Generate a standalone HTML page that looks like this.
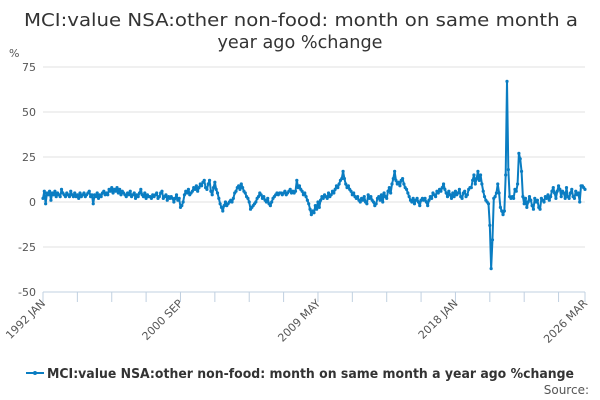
<!DOCTYPE html>
<html><head><meta charset="utf-8"><style>
body{margin:0;background:#fff;font-family:"DejaVu Sans","Liberation Sans",sans-serif;}
#wrap{position:relative;width:600px;height:400px;overflow:hidden;}
</style></head><body>
<div id="wrap">
<svg id="svg" width="600" height="400" xmlns="http://www.w3.org/2000/svg" font-family="DejaVu Sans, Liberation Sans, sans-serif">
<text x="301" y="26" text-anchor="middle" font-size="18" fill="#333" textLength="554" lengthAdjust="spacingAndGlyphs">MCI:value NSA:other non-food: month on same month a</text>
<text x="300" y="48" text-anchor="middle" font-size="18" fill="#333" textLength="165" lengthAdjust="spacingAndGlyphs">year ago %change</text>
<text x="9" y="57" font-size="11" fill="#555">%</text>
<g id="grid"></g><g id="xaxis"></g><g id="series"></g>
<g>
<line x1="26" y1="373" x2="44" y2="373" stroke="#0a7dc2" stroke-width="2"/>
<circle cx="35" cy="373" r="2" fill="#0a7dc2"/>
<text x="47" y="378" font-size="13" font-weight="bold" fill="#333" textLength="527" lengthAdjust="spacingAndGlyphs">MCI:value NSA:other non-food: month on same month a year ago %change</text>
</g>
<text x="589" y="394" text-anchor="end" font-size="12" fill="#555">Source:</text>
</svg></div>
<script>
const yTicks=[75,50,25,0,-25,-50];
const xLabelIdx=[0,104,208,312,410];
const xLabels=["1992 JAN","2000 SEP","2009 MAY","2018 JAN","2026 MAR"];
const values=[
2,6,-1,5,4,6,1,5,4,6,3,5,
4,3,7,5,4,3,5,4,3,6,4,3,
5,3,4,2,5,3,4,5,3,4,5,6,
3,4,-1,4,3,5,2,4,3,5,6,4,
5,4,7,6,8,5,7,6,8,5,7,4,
6,5,4,3,5,4,6,3,4,5,2,4,
3,5,7,4,3,5,2,4,3,3,2,4,
3,4,5,2,3,5,6,2,3,4,1,3,
2,3,2,0,2,4,1,2,-3,-2,0,4,
6,5,7,4,5,6,8,7,9,6,8,10,
9,11,12,8,7,10,12,6,4,8,11,7,
5,2,-1,-3,-5,-2,0,-2,-1,0,1,0,
2,5,6,8,9,7,10,8,6,5,3,2,
0,-4,-3,-2,-1,0,2,3,5,4,2,3,
1,0,2,-1,-2,0,2,3,4,5,4,5,
5,4,5,6,4,5,6,7,5,6,5,6,
12,8,9,7,6,4,5,3,1,-1,-4,-7,
-5,-6,-2,-4,0,-3,1,3,2,4,3,2,
5,3,4,6,5,7,9,8,10,12,13,17,
13,10,8,9,7,6,4,5,3,2,3,1,
0,2,1,3,0,-1,4,2,3,1,0,-2,
-1,2,3,1,4,0,5,3,2,6,8,5,
10,13,17,12,10,11,9,12,13,10,8,7,
5,3,1,0,2,-1,1,2,0,-2,1,2,
1,2,0,-2,1,3,2,5,4,3,6,5,
7,6,8,10,7,5,3,6,4,2,5,3,
6,4,5,7,3,2,5,6,3,4,7,8,
8,12,15,10,13,17,12,15,10,6,3,1,
0,-1,-13,-37,-21,2,3,5,10,5,-3,-5,
-7,-5,15,67,18,3,2,3,2,7,6,10,
27,24,17,3,-1,2,-3,0,3,1,-2,-4,
2,0,1,-3,-4,2,1,0,3,2,4,1,
3,6,8,5,2,6,9,7,3,6,5,2,
8,3,2,5,7,3,2,6,4,5,0,9,
9,8,7];
const X0=43,X1=585,Y0=67,Y1=292;
const N=values.length;
function xs(i){return X0+(X1-X0)*i/(N-1);}
function ys(v){return Y0+(75-v)*(Y1-Y0)/125;}
const NS="http://www.w3.org/2000/svg";
function mk(t,a,p){const e=document.createElementNS(NS,t);for(const k in a)e.setAttribute(k,a[k]);p.appendChild(e);return e;}
const grid=document.getElementById('grid');
yTicks.forEach(v=>{
  if(v!==-50){const l=mk('line',{x1:X0,x2:X1,y1:ys(v),y2:ys(v),stroke:'#e0e0e0','stroke-width':1},grid);
  
  }
  const t=mk('text',{x:X0-7,y:ys(v)+4,'text-anchor':'end','font-size':11,fill:'#555'},grid);
  t.textContent=v;
  
  
});
const xa=document.getElementById('xaxis');
const ax=mk('line',{x1:X0,x2:X1,y1:Y1,y2:Y1,stroke:'#c0d0e0','stroke-width':1},xa);


const tickIdx=[];for(let i=0;i<N;i+=26)tickIdx.push(i);tickIdx.push(N-1);
tickIdx.forEach(i=>{const t=mk('line',{x1:xs(i),x2:xs(i),y1:Y1,y2:Y1+10,stroke:'#c0d0e0'},xa);

});
xLabelIdx.forEach((i,k)=>{const x=xs(i)+3,y=Y1+12;
const t=mk('text',{x:x,y:y,'text-anchor':'end','font-size':11,fill:'#555',transform:`rotate(-45 ${x} ${y})`},xa);
t.textContent=xLabels[k];

});
const sg=document.getElementById('series');
const path=mk('path',{d:values.map((v,i)=>(i?'L':'M')+xs(i).toFixed(2)+' '+ys(v).toFixed(2)).join(''),fill:'none',stroke:'#0a7dc2','stroke-width':2,'stroke-linejoin':'round'},sg);


values.forEach((v,i)=>{const c=mk('circle',{cx:xs(i),cy:ys(v),r:1.6,fill:'#0a7dc2'},sg);

});
</script>
</body></html>
